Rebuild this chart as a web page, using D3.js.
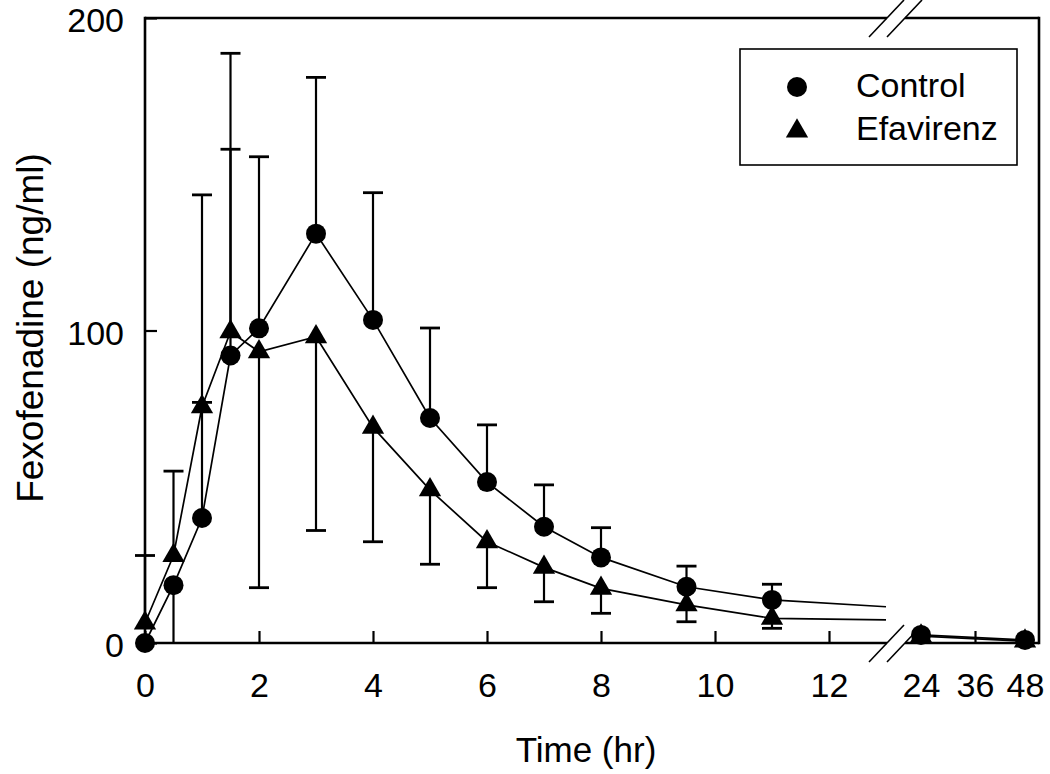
<!DOCTYPE html>
<html>
<head>
<meta charset="utf-8">
<script src="https://cdn.jsdelivr.net/npm/d3@7"></script>
<style>
  html, body { margin: 0; padding: 0; background: #fff; }
  svg { display: block; }
  text { font-family: "Liberation Sans", Arial, Helvetica, sans-serif; fill: #000; }
</style>
</head>
<body>
<svg id="chart" width="1050" height="774"></svg>
<script>
// ---------------- data ----------------
const times = [0, 0.5, 1, 1.5, 2, 3, 4, 5, 6, 7, 8, 9.5, 11, 24, 48];
const control = [0, 18.5, 40, 92, 100.7, 131, 103.4, 72, 51.5, 37.2, 27.4, 18, 13.8, 2.6, 1];
const efavirenz = [6.4, 28, 75.6, 99.6, 93.2, 98, 69, 49, 32.4, 24.2, 17.5, 12.2, 7.9, 2.2, 0.6];
// end value of each visible error bar (null = none shown)
const controlBarEnd = [null, -6, 77, 158, 155.6, 181, 144.1, 100.8, 69.8, 50.6, 36.9, 24.6, 18.8, null, null];
const efavirenzBarEnd = [28, 55, 143.4, 188.7, 17.7, 36, 32.4, 25.2, 17.7, 13.2, 9.5, 6.8, 4.7, null, null];
// fitted-curve tail just before the axis break
const tailTime = 13;
const controlTail = 11.6;
const efavirenzTail = 7.4;
const xTicksEarly = [0, 2, 4, 6, 8, 10, 12];
const xTicksLate = [24, 36, 48];
const yTicks = [0, 100, 200];
const seriesNames = ["Control", "Efavirenz"];

// ---------------- layout ----------------
const svg = d3.select("#chart");
const pL = 145, pR = 1039, pT = 18, pB = 643;
const breakA = 887, breakB = 905;

const xEarly = d3.scaleLinear().domain([0, 13]).range([pL, 886]);
const xLate = d3.scaleLinear().domain([24, 36, 48]).range([921, 975, 1025]);
const X = t => t <= 13 ? xEarly(t) : xLate(t);
const y = d3.scaleLinear().domain([0, 200]).range([pB, pT]);

const FS = 34;

// frame lines (with break)
const frame = svg.append("g").attr("stroke", "#000").attr("stroke-width", 2.6).attr("fill", "none");
frame.append("line").attr("x1", pL).attr("x2", pL).attr("y1", pT - 1.3).attr("y2", pB + 1.3);
frame.append("line").attr("x1", pR).attr("x2", pR).attr("y1", pT - 1.3).attr("y2", pB + 1.3);
frame.append("line").attr("x1", pL).attr("x2", breakA).attr("y1", pT).attr("y2", pT);
frame.append("line").attr("x1", breakB).attr("x2", pR).attr("y1", pT).attr("y2", pT);
frame.append("line").attr("x1", pL).attr("x2", breakA).attr("y1", pB).attr("y2", pB);
frame.append("line").attr("x1", breakB).attr("x2", pR).attr("y1", pB).attr("y2", pB);

// break marks
const brk = svg.append("g").attr("stroke", "#000").attr("stroke-width", 1.6);
[pT, pB].forEach(yy => {
  [breakA, breakB].forEach(xx => {
    brk.append("line").attr("x1", xx - 18).attr("y1", yy + 19).attr("x2", xx + 17).attr("y2", yy - 18);
  });
});

// axes
const axEarly = d3.axisBottom(xEarly).tickValues(xTicksEarly).tickSize(-12).tickPadding(30).tickFormat(d3.format("d"));
const axLate = d3.axisBottom(xLate).tickValues(xTicksLate).tickSize(-12).tickPadding(30).tickFormat(d3.format("d"));
const axY = d3.axisLeft(y).tickValues(yTicks).tickSize(-12).tickPadding(21).tickFormat(d3.format("d"));

function styleAxis(g) {
  g.select(".domain").remove();
  g.selectAll(".tick line").attr("stroke", "#000").attr("stroke-width", 2.2);
  g.selectAll(".tick text").attr("font-size", FS).attr("font-family", "Liberation Sans, Arial, sans-serif").attr("fill", "#000");
}
svg.append("g").attr("transform", `translate(0,${pB})`).call(axEarly).call(styleAxis);
svg.append("g").attr("transform", `translate(0,${pB})`).call(axLate).call(styleAxis);
svg.append("g").attr("transform", `translate(${pL},0)`).call(axY).call(styleAxis)
  .selectAll(".tick text").attr("dy", "0.4em");

// axis titles
svg.append("text").attr("x", 586).attr("y", 762)
  .attr("text-anchor", "middle").attr("font-size", 35).text("Time (hr)");
svg.append("text").attr("transform", `translate(43,328) rotate(-90)`)
  .attr("text-anchor", "middle").attr("font-size", 37).text("Fexofenadine (ng/ml)");

// lines
const line = d3.line().x(d => X(d[0])).y(d => y(d[1]));
function seriesLines(vals, tail) {
  const early = times.map((t, i) => [t, vals[i]]).filter(d => d[0] <= 13);
  early.push([tailTime, tail]);
  const late = times.map((t, i) => [t, vals[i]]).filter(d => d[0] > 13);
  return [early, late];
}
const lg = svg.append("g").attr("fill", "none").attr("stroke", "#000").attr("stroke-width", 1.7);
[[control, controlTail], [efavirenz, efavirenzTail]].forEach(([vals, tail]) => {
  seriesLines(vals, tail).forEach(seg => lg.append("path").attr("d", line(seg)));
});

// error bars
const eg = svg.append("g").attr("stroke", "#000");
function bars(vals, ends) {
  times.forEach((t, i) => {
    const e = ends[i];
    if (e === null) return;
    const cx = X(t);
    const endClip = Math.max(e, 0);
    eg.append("line").attr("x1", cx).attr("x2", cx).attr("y1", y(vals[i])).attr("y2", y(endClip)).attr("stroke-width", 2.2);
    if (e >= 0) {
      eg.append("line").attr("x1", cx - 10).attr("x2", cx + 10).attr("y1", y(e)).attr("y2", y(e)).attr("stroke-width", 2.8);
    }
  });
}
bars(control, controlBarEnd);
bars(efavirenz, efavirenzBarEnd);

// markers
const tri = d3.symbol().type(d3.symbolTriangle).size(215);
svg.append("g").selectAll("path").data(times.map((t, i) => [t, efavirenz[i]])).join("path")
  .attr("d", tri).attr("transform", d => `translate(${X(d[0])},${y(d[1])})`).attr("fill", "#000");
svg.append("g").selectAll("circle").data(times.map((t, i) => [t, control[i]])).join("circle")
  .attr("cx", d => X(d[0])).attr("cy", d => y(d[1])).attr("r", 10).attr("fill", "#000");

// legend
const leg = svg.append("g");
leg.append("rect").attr("x", 740).attr("y", 49).attr("width", 277).attr("height", 116)
  .attr("fill", "#fff").attr("stroke", "#000").attr("stroke-width", 1.6);
leg.append("circle").attr("cx", 797).attr("cy", 87).attr("r", 10).attr("fill", "#000");
leg.append("path").attr("d", tri).attr("transform", "translate(797,131)").attr("fill", "#000");
leg.append("text").attr("x", 856).attr("y", 97).attr("font-size", 34).text(seriesNames[0]);
leg.append("text").attr("x", 856).attr("y", 140).attr("font-size", 34).text(seriesNames[1]);
</script>
</body>
</html>
